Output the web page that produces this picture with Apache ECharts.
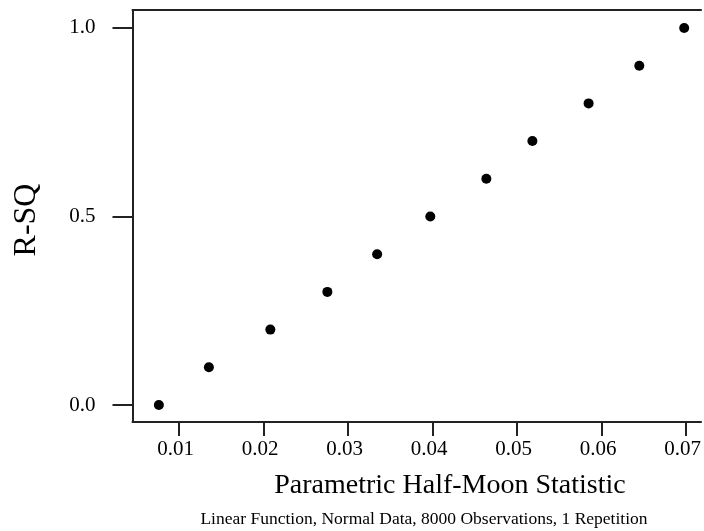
<!DOCTYPE html>
<html>
<head>
<meta charset="utf-8">
<script src="https://cdn.jsdelivr.net/npm/echarts@6/dist/echarts.min.js"></script>
<style>
  html, body { margin: 0; padding: 0; background: #fff; }
  #chart { width: 704px; height: 531px; }
</style>
</head>
<body>
<div id="chart"></div>
<script>
// Parametric half-moon statistic against R-squared
const halfMoon = [0.00761, 0.01353, 0.02080, 0.02755, 0.03344, 0.03973, 0.04636, 0.05181, 0.05846, 0.06446, 0.06977];
const rSquared = [0.0, 0.1, 0.2, 0.3, 0.4, 0.5, 0.6, 0.7, 0.8, 0.9, 1.0];
const xTicks = [0.01, 0.02, 0.03, 0.04, 0.05, 0.06, 0.07];
const yTicks = [0.0, 0.5, 1.0];

const FONT = '"Liberation Serif", "Times New Roman", serif';
const INK = '#222';
const X_MIN = 0.004491;
const X_MAX = 0.07177;

const points = halfMoon.map((x, i) => [x, rSquared[i]]);

const chart = echarts.init(document.getElementById('chart'), null, { renderer: 'canvas' });
chart.setOption({
  backgroundColor: '#fff',
  animation: false,
  title: [
    {
      text: 'Parametric Half-Moon Statistic',
      left: 450, top: 472, textAlign: 'center', padding: 0,
      textStyle: { fontFamily: FONT, fontSize: 28, fontWeight: 'normal', color: '#000' }
    },
    {
      text: 'Linear Function, Normal Data, 8000 Observations, 1 Repetition',
      left: 424, top: 510, textAlign: 'center', padding: 0,
      textStyle: { fontFamily: FONT, fontSize: 17.5, fontWeight: 'normal', color: '#000' }
    }
  ],
  grid: { left: 132.5, top: 10, right: 0, bottom: 109, show: false },
  xAxis: [
    {
      type: 'value', position: 'bottom',
      min: X_MIN, max: X_MAX,
      axisLine: { show: true, onZero: false, lineStyle: { color: INK, width: 2 } },
      axisTick: { show: true, length: 14, customValues: xTicks, lineStyle: { color: INK, width: 2 } },
      axisLabel: {
        customValues: xTicks, margin: 17, padding: [0, 7, 0, 0],
        fontFamily: FONT, fontSize: 21, color: '#000',
        formatter: v => v.toFixed(2)
      },
      splitLine: { show: false }
    },
    {
      // top frame line of the plot box
      type: 'value', position: 'top',
      min: X_MIN, max: X_MAX,
      axisLine: { show: true, onZero: false, lineStyle: { color: INK, width: 2 } },
      axisTick: { show: false },
      axisLabel: { show: false },
      splitLine: { show: false }
    }
  ],
  yAxis: {
    type: 'value',
    min: -0.0451, max: 1.0477,
    name: 'R-SQ', nameLocation: 'middle', nameRotate: 90, nameGap: 90,
    nameTextStyle: { fontFamily: FONT, fontSize: 32, color: '#000', padding: [0, 8, 0, 0] },
    axisLine: { show: true, onZero: false, lineStyle: { color: INK, width: 2 } },
    axisTick: { show: true, length: 20, customValues: yTicks, lineStyle: { color: INK, width: 2 } },
    axisLabel: {
      customValues: yTicks, margin: 37, padding: [0, 0, 13, 0],
      fontFamily: FONT, fontSize: 21, color: '#000',
      formatter: v => v.toFixed(1)
    },
    splitLine: { show: false }
  },
  series: [{
    type: 'scatter',
    xAxisIndex: 0,
    data: points,
    symbol: 'circle',
    symbolSize: 10,
    itemStyle: { color: '#000', opacity: 1 },
    clip: false
  }]
});
</script>
</body>
</html>
